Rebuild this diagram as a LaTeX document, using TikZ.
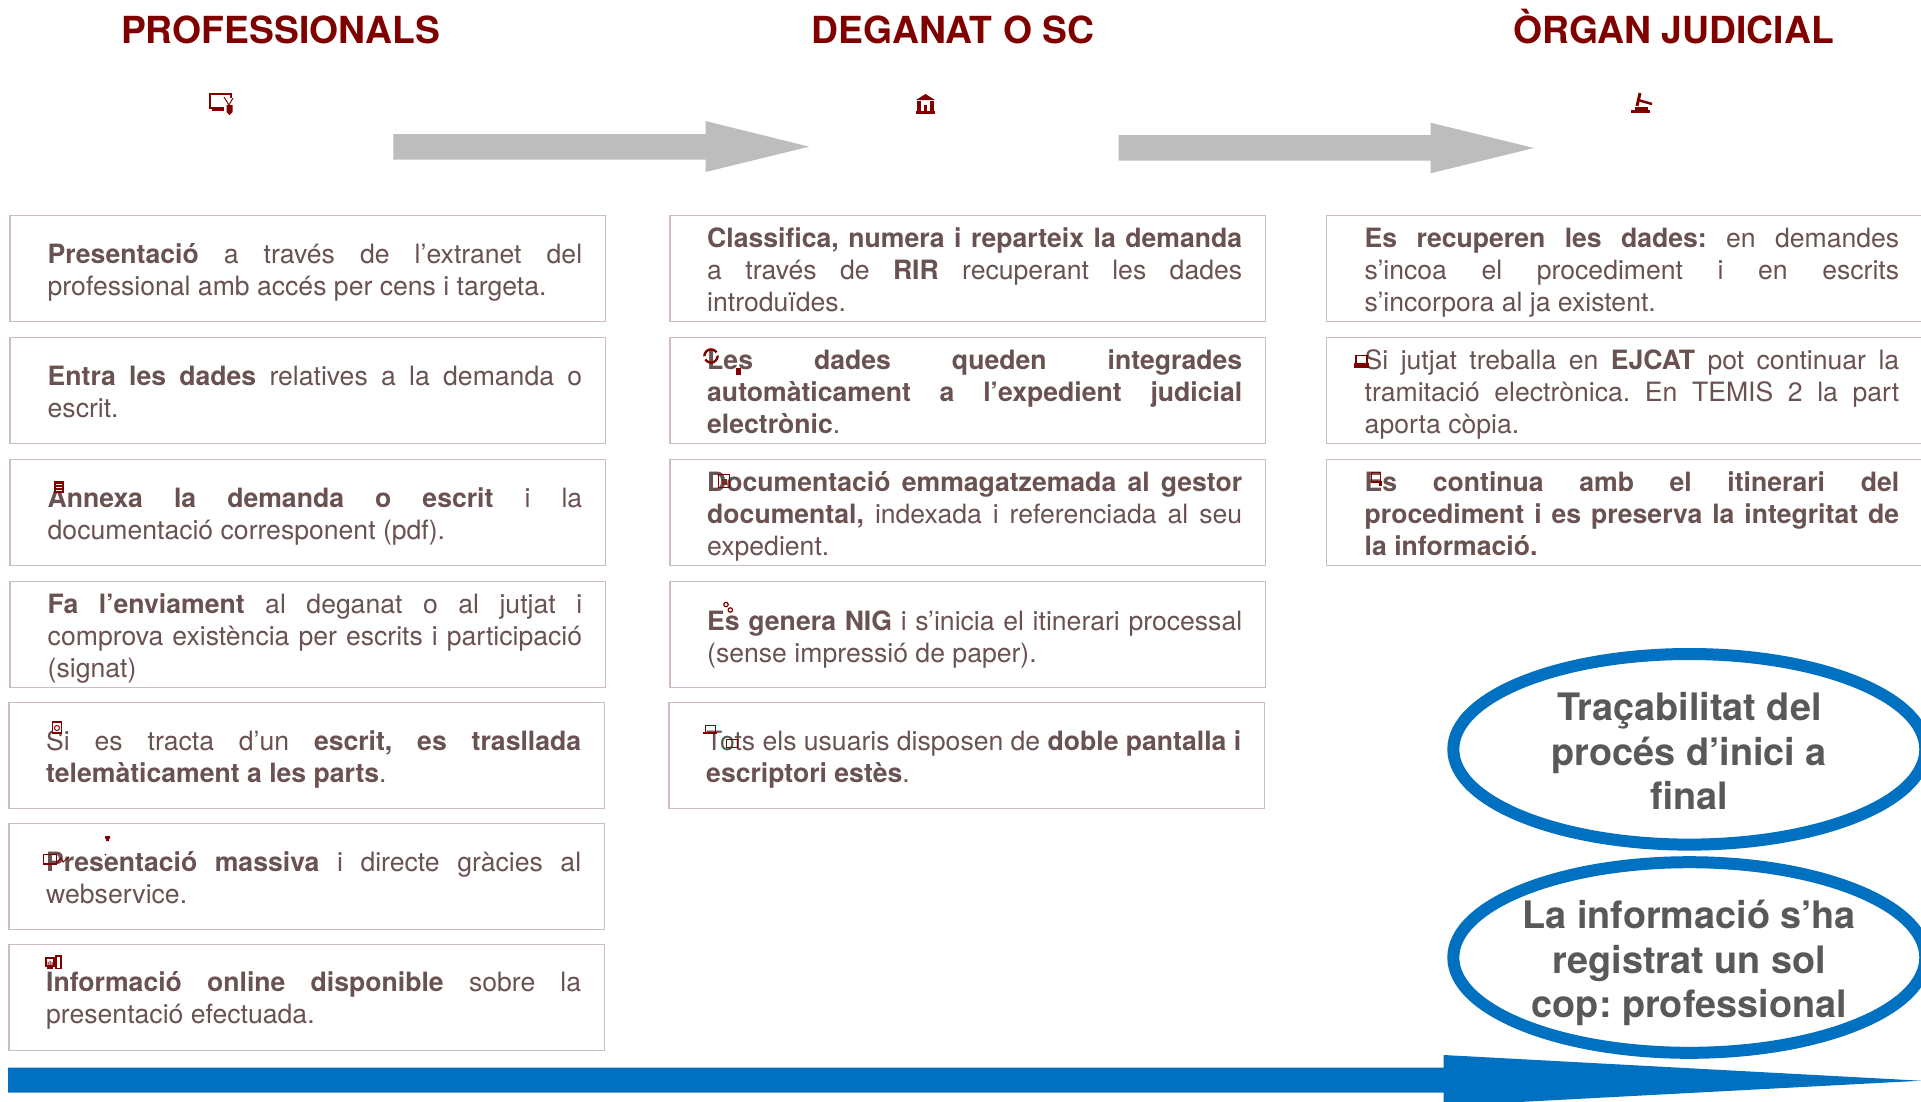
\documentclass[tikz,border=0pt]{standalone}
\usepackage{fontspec}
\setmainfont{TeX Gyre Heros}
\definecolor{redtitle}{HTML}{800000}
\definecolor{bodycol}{HTML}{6B5252}
\definecolor{boxline}{HTML}{CDBDBD}
\definecolor{arrowgray}{HTML}{BDBDBD}
\definecolor{blueband}{HTML}{0070C0}
\definecolor{ovaltext}{HTML}{595959}
\hbadness=10000
\hfuzz=20pt
\hyphenpenalty=10000
\exhyphenpenalty=10000
\frenchspacing
\tikzset{
  titlelabel/.style={anchor=base,inner sep=0pt,text=redtitle,font=\fontsize{37.3}{40}\selectfont\bfseries},
  boxp/.style={draw=boxline,line width=1.4pt,fill=white,inner sep=0pt,minimum height=106pt,minimum width=595.5pt,anchor=north west},
  txt/.style={anchor=north west,inner sep=0pt,text=bodycol,align=justify,font=\fontsize{26.6}{32}\selectfont\frenchspacing},
  greyarrow/.style={fill=arrowgray,draw=none},
  bluearrow/.style={fill=blueband,draw=none},
  oval/.style={draw=blueband,line width=12pt,fill=white},
  ovaltxt/.style={anchor=base,inner sep=0pt,text=ovaltext,font=\fontsize{37.8}{40}\selectfont\bfseries\frenchspacing},
  icon/.style={fill=redtitle,draw=none},
  iconline/.style={draw=redtitle,line width=1.5pt,fill=none},
}
\newcommand{\bodytext}[5]{\node[txt,text width=#4pt] (#1) at ({#2},{#3-22.4}) {\strut #5};}
\begin{document}
\begin{tikzpicture}[x=1pt,y=-1pt]
\useasboundingbox (0,0) rectangle (1921,1101);
\clip (0,0) rectangle (1921,1101);
\fill[white] (0,0) rectangle (1921,1101);

% titles
\node[titlelabel] (t1) at (280.5,43.5) {PROFESSIONALS};
\node[titlelabel] (t2) at (953,43.5) {DEGANAT O SC};
\node[titlelabel] (t3) at (1673.5,43.5) {ÒRGAN JUDICIAL};

% grey arrows
\fill[greyarrow] (393.3,134) -- (705.5,134) -- (705.5,121) -- (809,146.7) -- (705.5,172) -- (705.5,159.7) -- (393.3,159.7) -- cycle;
\fill[greyarrow] (1118.5,135) -- (1430.5,135) -- (1430.5,122.7) -- (1534,148) -- (1430.5,173.3) -- (1430.5,160.7) -- (1118.5,160.7) -- cycle;

% boxes
\node[boxp] (a1) at (9.3,215) {};
\node[boxp] (a2) at (9.3,337) {};
\node[boxp] (a3) at (9.3,459) {};
\node[boxp] (a4) at (9.3,581) {};
\node[boxp] (a5) at (8.3,702) {};
\node[boxp] (a6) at (8.3,823) {};
\node[boxp] (a7) at (8.3,944) {};
\node[boxp] (b1) at (669.3,215) {};
\node[boxp] (b2) at (669.3,337) {};
\node[boxp] (b3) at (669.3,459) {};
\node[boxp] (b4) at (669.3,581) {};
\node[boxp] (b5) at (668.3,702) {};
\node[boxp] (c1) at (1326,215) {};
\node[boxp] (c2) at (1326,337) {};
\node[boxp] (c3) at (1326,459) {};

% left column text
\bodytext{a1t}{47.5}{263}{534.5}{\textbf{Presentació} a través de l’extranet del\linebreak professional amb accés per cens i targeta.}
\bodytext{a2t}{47.5}{385}{534.5}{\textbf{Entra les dades} relatives a la demanda o\linebreak escrit.}
\bodytext{a3t}{47.5}{507}{534.5}{\textbf{Annexa la demanda o escrit} i la\linebreak documentació corresponent (pdf).}
\bodytext{a4t}{47.5}{613}{534.5}{\textbf{Fa l’enviament} al deganat o al jutjat i\linebreak comprova existència per escrits i participació\linebreak (signat)}
\bodytext{a5t}{46}{750}{535}{Si es tracta d’un \textbf{escrit, es trasllada\linebreak telemàticament a les parts}.}
\bodytext{a6t}{46}{871}{535}{\textbf{Presentació massiva} i directe gràcies al\linebreak webservice.}
\bodytext{a7t}{46}{991}{535}{\textbf{Informació online disponible} sobre la\linebreak presentació efectuada.}

% middle column text
\bodytext{b1t}{707}{247}{535}{\textbf{Classifica, numera i reparteix la demanda}\linebreak a través de \textbf{RIR} recuperant les dades\linebreak introduïdes.}
\bodytext{b2t}{707}{369}{535}{\textbf{Les dades queden integrades\linebreak automàticament a l’expedient judicial\linebreak electrònic}.}
\bodytext{b3t}{707}{491}{535}{\textbf{Documentació emmagatzemada al gestor\linebreak documental,} indexada i referenciada al seu\linebreak expedient.}
\bodytext{b4t}{707}{630}{535}{\textbf{Es genera NIG} i s’inicia el itinerari processal\linebreak (sense impressió de paper).}
\bodytext{b5t}{706}{750}{535}{Tots els usuaris disposen de \textbf{doble pantalla i\linebreak escriptori estès}.}

% right column text
\bodytext{c1t}{1364.5}{247}{534.5}{\textbf{Es recuperen les dades:} en demandes\linebreak s’incoa el procediment i en escrits\linebreak s’incorpora al ja existent.}
\bodytext{c2t}{1364.5}{369}{534.5}{Si jutjat treballa en \textbf{EJCAT} pot continuar la\linebreak tramitació electrònica. En TEMIS 2 la part\linebreak aporta còpia.}
\bodytext{c3t}{1364.5}{491}{534.5}{\textbf{Es continua amb el itinerari del\linebreak procediment i es preserva la integritat de\linebreak la informació.}}

% ovals
\draw[oval] (1689.3,749.3) ellipse [x radius=236,y radius=95.3];
\draw[oval] (1689.3,957.5) ellipse [x radius=236,y radius=95.3];
\node[ovaltxt] (o1a) at (1689.3,720) {Traçabilitat del};
\node[ovaltxt] (o1b) at (1689.3,765) {procés d’inici a};
\node[ovaltxt] (o1c) at (1689.3,809) {final};
\node[ovaltxt] (o2a) at (1689.3,928) {La informació s’ha};
\node[ovaltxt] (o2b) at (1689.3,973) {registrat un sol};
\node[ovaltxt] (o2c) at (1689.3,1017.5) {cop: professional};

% blue band arrow
\fill[bluearrow] (8,1067.7) -- (1443.7,1067.7) -- (1443.7,1055) -- (1921,1080.7) -- (1443.7,1106) -- (1443.7,1092.7) -- (8,1092.7) -- cycle;

% icons: header monitor + mouse
\draw[iconline] (210,94) rectangle (231,108);
\fill[icon] (212,107) rectangle (224,111);
\fill[white] (224,98) rectangle (236,116);
\fill[icon] (226.5,105) -- (232.5,105) -- (232.5,112) -- (229.5,115) -- (226.5,112) -- cycle;
\draw[redtitle,line width=1pt] (224,97) -- (229,105) (233,98) -- (229,105);
% bank
\fill[icon] (925.5,94) -- (935,100) -- (916,100) -- cycle;
\fill[icon] (917,101) rectangle (921,111);
\fill[icon] (930,101) rectangle (934,111);
\fill[icon] (924,105) rectangle (927,111);
\fill[icon] (916,110.5) rectangle (935,114);
% gavel
\draw[redtitle,line width=3pt] (1640,93) -- (1637,106);
\draw[redtitle,line width=2.5pt] (1638,100) -- (1652,104);
\fill[icon] (1635,107) rectangle (1648,110);
\fill[icon] (1631,110) rectangle (1650,113);
% Annexa doc
\fill[icon] (54,481) rectangle (64,493);
\draw[white,line width=.5pt] (56,484) -- (62,484) (56,487) -- (62,487) (56,490) -- (62,490);
% box a5 doc
\draw[redtitle,line width=1.2pt,fill=white] (52.5,722) rectangle (61.5,733);
\draw[redtitle,line width=1pt] (57,728) circle (2.5);
% a6
\fill[redtitle] (105,836) rectangle (110,838.5) (106,838.5) rectangle (109,841);
\fill[redtitle] (105.5,854.5) circle (1);
\draw[redtitle,line width=1.8pt] (43.5,854.5) rectangle (56.5,864);
\draw[redtitle,line width=1pt] (57,863) -- (61,858) -- (63,862) -- (69,857);
% a7
\fill[icon] (44.5,957) rectangle (55,967);
\fill[white] (46.5,959) rectangle (53,965);
\fill[icon] (47.5,961.5) rectangle (48.5,965) (49.5,960.5) rectangle (50.5,965) (51.5,962) rectangle (52.5,965);
\fill[icon] (47,967) rectangle (53,969);
\draw[redtitle,line width=1.2pt] (56,956) rectangle (61,968.5);
% b2 recycle
\draw[redtitle,line width=2.4pt,dash pattern=on 17pt off 3.4pt] (711,356) circle (6.6);
\fill[icon] (736,368) rectangle (741,375);
% b3 square
\draw[redtitle,line width=1.5pt] (718.5,474.5) rectangle (729.5,487.5);
\fill[redtitle!70!gray] (721.5,478.5) rectangle (727,484.5);
% b4 cogs
\draw[redtitle,line width=1.2pt] (726,604.5) circle (2.2);
\draw[redtitle,line width=1.2pt] (730.3,610) circle (2.2);
% b5 laptop + rect
\draw[redtitle,line width=.9pt] (705,733) -- (705,725.7) -- (715,725.7) -- (715,733);
\draw[redtitle,line width=1.4pt] (703,733) -- (717,733);
\draw[redtitle,line width=1pt] (726,739.5) rectangle (737,747);
% c2 laptop
\draw[redtitle,line width=1.4pt] (1356,355.5) rectangle (1367,363.5);
\fill[icon] (1353.5,363) rectangle (1369,367.5);
% c3 square + lock
\draw[redtitle,line width=1.6pt] (1371.5,472.5) rectangle (1380.5,482);
\fill[icon] (1378.5,481) rectangle (1382,485.5);
\end{tikzpicture}
\end{document}
